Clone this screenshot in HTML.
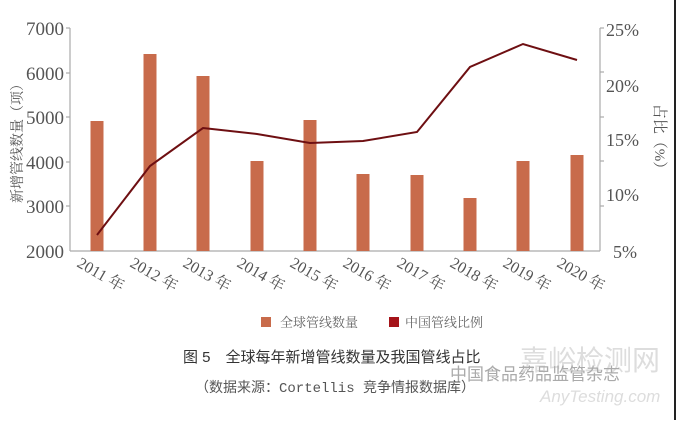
<!DOCTYPE html>
<html><head><meta charset="utf-8"><style>
body{margin:0;background:#fff;}
svg text{font-family:"Liberation Serif","Noto Serif CJK SC",serif;}
</style></head><body>
<svg width="680" height="420" xmlns="http://www.w3.org/2000/svg">
<rect width="680" height="420" fill="#fff"/>
<line x1="675" y1="0" x2="675" y2="420" stroke="#222" stroke-width="2"/>
<g stroke="#aaa" stroke-width="1.2">
<line x1="70" y1="28" x2="70" y2="251"/>
<line x1="70" y1="251" x2="600" y2="251"/>
<line x1="600" y1="28" x2="600" y2="251"/>
<line x1="66" y1="28" x2="70" y2="28"/><line x1="66" y1="73" x2="70" y2="73"/><line x1="66" y1="117" x2="70" y2="117"/><line x1="66" y1="162" x2="70" y2="162"/><line x1="66" y1="206" x2="70" y2="206"/>
<line x1="600" y1="28" x2="604" y2="28"/><line x1="600" y1="72" x2="604" y2="72"/><line x1="600" y1="117" x2="604" y2="117"/><line x1="600" y1="161" x2="604" y2="161"/><line x1="600" y1="206" x2="604" y2="206"/>
</g>
<g fill="#555" font-size="19" text-anchor="end">
<text x="64" y="35">7000</text><text x="64" y="80">6000</text><text x="64" y="124">5000</text><text x="64" y="169">4000</text><text x="64" y="213">3000</text><text x="64" y="258">2000</text>
</g>
<g fill="#555" font-size="18">
<text x="606" y="36">25%</text><text x="606" y="92">20%</text><text x="606" y="146">15%</text><text x="606" y="201">10%</text><text x="613" y="258">5%</text>
</g>
<text transform="translate(22,140) rotate(-90)" text-anchor="middle" fill="#555" font-size="14">新增管线数量（项）</text>
<text transform="translate(655,140) rotate(90)" text-anchor="middle" fill="#555" font-size="15">占比（%）</text>
<g fill="#c86b4b">
<rect x="90.5" y="121" width="13" height="130"/>
<rect x="143.5" y="54" width="13" height="197"/>
<rect x="196.5" y="76" width="13" height="175"/>
<rect x="250.5" y="161" width="13" height="90"/>
<rect x="303.5" y="120" width="13" height="131"/>
<rect x="356.5" y="174" width="13" height="77"/>
<rect x="410.5" y="175" width="13" height="76"/>
<rect x="463.5" y="198" width="13" height="53"/>
<rect x="516.5" y="161" width="13" height="90"/>
<rect x="570.5" y="155" width="13" height="96"/>
</g>
<polyline fill="none" stroke="#6e0f12" stroke-width="2" points="97,235 150,166 203,128 257,134 310,143 363,141 417,132 470,67 523,44 577,60"/>
<g fill="#555" font-size="16">
<text transform="translate(76,266) rotate(30)">2011 年</text>
<text transform="translate(129,266) rotate(30)">2012 年</text>
<text transform="translate(182,266) rotate(30)">2013 年</text>
<text transform="translate(236,266) rotate(30)">2014 年</text>
<text transform="translate(289,266) rotate(30)">2015 年</text>
<text transform="translate(342,266) rotate(30)">2016 年</text>
<text transform="translate(396,266) rotate(30)">2017 年</text>
<text transform="translate(449,266) rotate(30)">2018 年</text>
<text transform="translate(502,266) rotate(30)">2019 年</text>
<text transform="translate(556,266) rotate(30)">2020 年</text>
</g>
<rect x="261" y="317" width="10" height="10" fill="#c86b4b"/>
<text x="280" y="327" fill="#666" font-size="13">全球管线数量</text>
<rect x="389" y="317" width="10" height="10" fill="#a5141a"/>
<text x="405" y="327" fill="#666" font-size="13">中国管线比例</text>
<text x="183" y="362" fill="#333" font-size="15" style="font-family:'Liberation Sans','Noto Sans CJK SC',sans-serif">图 5　全球每年新增管线数量及我国管线占比</text>
<text x="195" y="392" fill="#555" font-size="14" style="font-family:'Liberation Mono','Noto Sans CJK SC',monospace">（数据来源：Cortellis 竞争情报数据库）</text>
<text x="520" y="370" fill="#ddd" font-size="28" style="font-family:'Noto Sans CJK SC',sans-serif">嘉峪检测网</text>
<text x="450" y="380" fill="#aaa" font-size="17" style="font-family:'Noto Sans CJK SC',sans-serif">中国食品药品监管杂志</text>
<text x="540" y="402" fill="#ddd" font-size="17" font-style="italic" style="font-family:'Liberation Sans',sans-serif">AnyTesting.com</text>
</svg>
</body></html>
